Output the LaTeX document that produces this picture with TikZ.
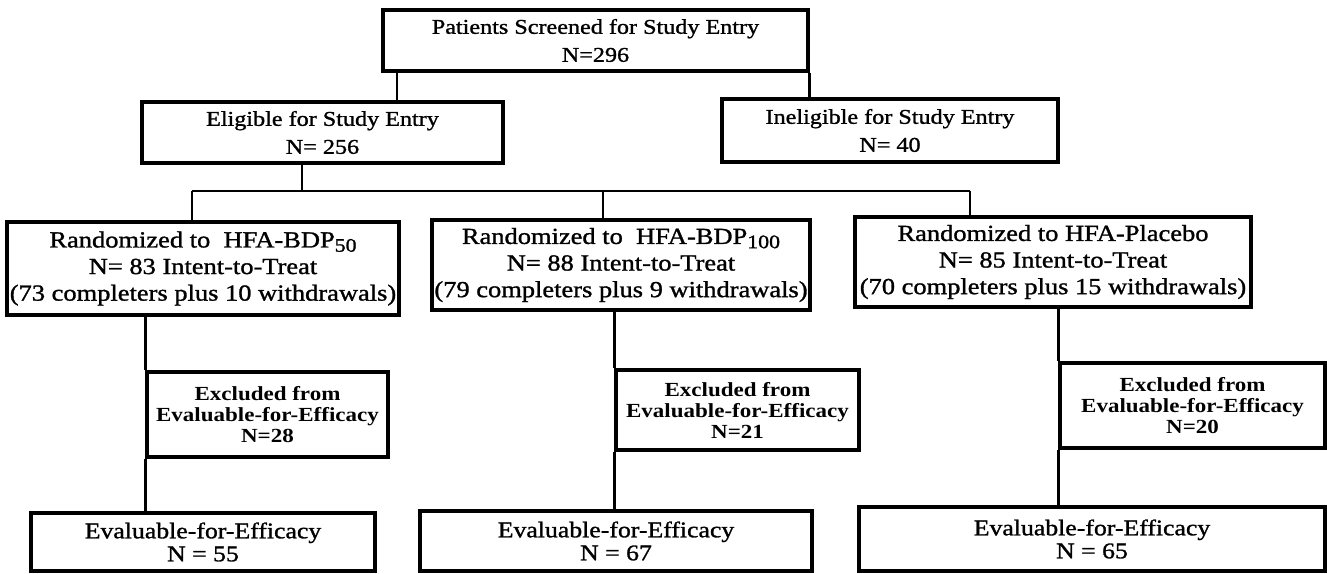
\documentclass[tikz,border=0pt]{standalone}
\usepackage{fontspec}
\setmainfont{Liberation Serif}[FakeStretch=1.15,UprightFeatures={FakeBold=1.2}]
\newcommand\lowsub[1]{\raisebox{-0.4ex}{\fontsize{9.5}{9.5}\selectfont #1}}
\begin{document}
\begin{tikzpicture}[x=0.5pt,y=-0.5pt]

    \tikzset{
      box/.style={
        draw,
        line width=1.6pt,
        align=center,
        inner sep=0pt,
      },
      dims/.style 2 args={
        minimum width=#1*0.5pt,
        minimum height=#2*0.5pt,
      },
      big/.style={font=\fontsize{10.5}{14}\selectfont},
      rnd/.style={font=\fontsize{11.5}{13.3}\selectfont},
      exc/.style={font=\bfseries\fontsize{10}{10.5}\selectfont},
      eva/.style={font=\fontsize{11.2}{11.5}\selectfont},
      link/.style={line width=1.2pt},
    }
    \useasboundingbox (0,0) rectangle (1327,573);

	\node[box,big,dims={425}{61}] (screen) at (595.5,40.5) {Patients Screened for Study Entry\\N=296};
	\node[box,big,dims={361}{61}] (elig) at (322.5,132.5) {Eligible for Study Entry\\N= 256};
	\node[box,big,dims={336}{63}] (inelig) at (890,130.5) {Ineligible for Study Entry\\N= 40};

	\node[box,rnd,dims={392}{93}] (rndA) at (203,268.5) {Randomized to\ \ HFA-BDP\lowsub{50}\\N= 83 Intent-to-Treat\\(73 completers plus 10 withdrawals)};
	\node[box,rnd,dims={378}{90}] (rndB) at (621,265) {Randomized to\ \ HFA-BDP\lowsub{100}\\N= 88 Intent-to-Treat\\(79 completers plus 9 withdrawals)};
	\node[box,rnd,dims={396}{90}] (rndC) at (1053,262) {Randomized to HFA-Placebo\\N= 85 Intent-to-Treat\\(70 completers plus 15 withdrawals)};

	\node[box,exc,dims={241}{85}] (excA) at (267.5,414.5) {Excluded from\\Evaluable-for-Efficacy\\N=28};
	\node[box,exc,dims={243}{80}] (excB) at (737.5,410) {Excluded from\\Evaluable-for-Efficacy\\N=21};
	\node[box,exc,dims={265}{85}] (excC) at (1192.5,405.5) {Excluded from\\Evaluable-for-Efficacy\\N=20};

	\node[box,eva,dims={344}{58}] (evaA) at (203,542) {Evaluable-for-Efficacy\\N = 55};
	\node[box,eva,dims={392}{60}] (evaB) at (616,541) {Evaluable-for-Efficacy\\N = 67};
	\node[box,eva,dims={466}{64}] (evaC) at (1092,539) {Evaluable-for-Efficacy\\N = 65};

	\coordinate (split) at (397,86);
	\coordinate (stem) at (302,191);
	\coordinate (dropA) at (192,191);
	\coordinate (dropB) at (603,191);
	\coordinate (dropC) at (970,191);

	\draw[link] (screen.south -| split) -- (elig.north -| split);
	\draw[link] (screen.south east) -- (inelig.north -| screen.south east);
	\draw[link] (elig.south -| stem) -- (stem);
	\draw[link] (dropA) -- (dropC);
	\draw[link] (dropA) -- (rndA.north -| dropA);
	\draw[link] (dropB) -- (rndB.north -| dropB);
	\draw[link] (dropC) -- (rndC.north -| dropC);
	\foreach \c in {A,B,C} {
	  \draw[link] (rnd\c.south -| exc\c.north west) -- (exc\c.north west);
	  \draw[link] (exc\c.south west) -- (eva\c.north -| exc\c.south west);
	}

\end{tikzpicture}
\end{document}
